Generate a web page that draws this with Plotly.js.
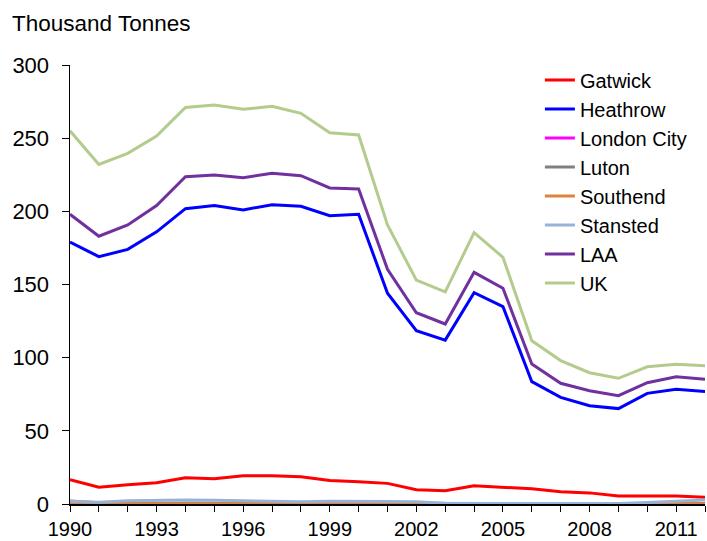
<!DOCTYPE html>
<html><head><meta charset="utf-8">
<script src="https://cdn.plot.ly/plotly-3.0.1.min.js"></script>
<style>body{margin:0;background:#fff}#chart{width:707px;height:541px}</style>
</head><body><div id="chart"></div>
<script>
const years = [1990,1991,1992,1993,1994,1995,1996,1997,1998,1999,2000,2001,2002,2003,2004,2005,2006,2007,2008,2009,2010,2011,2012];
const gatwick = [16.6,11.5,13.1,14.5,18.0,17.3,19.3,19.3,18.7,16.1,15.2,14.1,9.7,9.0,12.4,11.3,10.4,8.3,7.6,5.5,5.5,5.5,4.6];
const heathrow = [179,169,174,186,201.8,204,201,204.5,203.4,197,198,144,118.4,112,144.4,134.9,83.6,72.9,67.2,65.2,75.6,78.4,76.8];
const londonCity = [0,0,0,0,0,0,0,0,0,0,0,0,0,0,0,0,0,0,0.2,0.1,0,0,0];
const luton = [2.0,0.8,0.5,0.5,0.5,0.5,0.4,0.4,0.4,0.4,0.4,0.4,0.3,0.3,0.3,0.3,0.3,0.3,0.3,0.3,0.3,0.3,0.3];
const southend = [0.2,0.2,0.2,0.2,0.2,0.2,0.2,0.2,0.2,0.2,0.2,0.2,0.2,0.2,0.2,0.2,0.2,0.2,0.2,0.2,0.2,0.2,0.2];
const stansted = [1.8,1.2,2.2,2.6,2.7,2.5,2.2,2.2,1.6,1.9,1.6,1.7,1.6,0.5,0.3,0.3,0.3,0.2,0.6,0.3,1.0,2.0,2.8];
const laa = [198,183,190.7,204,223.7,224.8,223,226,224.4,216,215.3,160.4,130.7,123,158.3,147.4,95.7,82.5,77.4,74,82.9,87,85.2];
const uk = [255,232,239.6,251.5,271,272.7,269.7,271.8,267,253.7,252.2,190.7,153,145,185.4,168.6,111.6,98,89.7,85.9,93.8,95.5,94.5];
const xTickVals = [1990,1993,1996,1999,2002,2005,2008,2011];
const yTickVals = [0,50,100,150,200,250,300];

const series = [
  ['Gatwick', gatwick, '#FF0000'],
  ['Heathrow', heathrow, '#0000FF'],
  ['London City', londonCity, '#FF00FF'],
  ['Luton', luton, '#808080'],
  ['Southend', southend, '#E0813E'],
  ['Stansted', stansted, '#95B3D7'],
  ['LAA', laa, '#7030A0'],
  ['UK', uk, '#B3CC8E']
];
const traces = series.map((s, i) => ({
  x: years, y: s[1], name: s[0], type: 'scatter', mode: 'lines',
  line: {color: s[2], width: 3}
}));
const ff = 'Liberation Sans, Arial, sans-serif';
const font = {family: ff, size: 22, color: '#000'};
const layout = {
  width: 707, height: 541,
  margin: {l: 70, r: 2, t: 65, b: 37},
  paper_bgcolor: '#fff', plot_bgcolor: '#fff',
  font: font,
  showlegend: true,
  legend: {x: 0.74, xanchor: 'left', y: 1.01, yanchor: 'top', bgcolor: 'rgba(0,0,0,0)',
           font: {family: ff, size: 20, color: '#000'}, itemwidth: 30},
  xaxis: {range: [1990, 2012], tickvals: xTickVals, ticktext: xTickVals.map(String),
          ticks: 'outside', ticklen: 6, tickcolor: '#000', showline: true, linecolor: '#000', linewidth: 1.5,
          showgrid: false, zeroline: false, tickfont: {family: ff, size: 20, color: '#000'},
          minor: {dtick: 1, tick0: 1990, ticks: 'outside', ticklen: 6, tickcolor: '#000', showgrid: false}},
  yaxis: {range: [0, 300], tickvals: yTickVals, ticks: 'outside', ticklen: 7, tickcolor: '#000',
          ticklabelstandoff: 8,
          showline: true, linecolor: '#000', linewidth: 1.5, showgrid: false, zeroline: false},
  annotations: [{text: 'Thousand Tonnes', xref: 'paper', yref: 'paper', x: 0, y: 1,
                 xanchor: 'left', yanchor: 'bottom', xshift: -60, yshift: 27, showarrow: false,
                 font: {family: ff, size: 22.5, color: '#000'}}]
};
Plotly.newPlot('chart', traces, layout, {displayModeBar: false, staticPlot: true});
</script></body></html>
